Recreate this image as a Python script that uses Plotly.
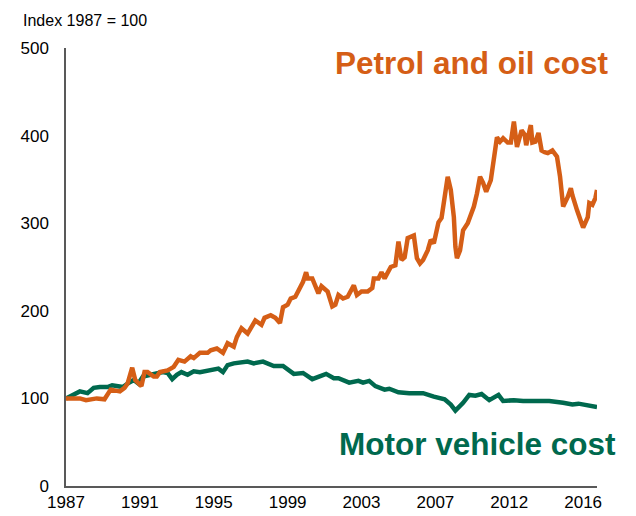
import plotly.graph_objects as go

# months since Jan 1987
petrol_month = [0, 9, 13, 20, 25, 29, 35, 38, 40, 43, 45, 47, 49, 51, 53, 57, 59, 61, 66, 70, 73, 77,
                81, 83, 87, 92, 94, 98, 102, 105, 109, 111, 114, 118, 123, 127, 129, 133, 136, 139,
                141, 144, 146, 149, 151, 154, 156, 157, 160, 162, 164, 166, 170, 173, 175, 177, 180,
                183, 187, 189, 192, 196, 199, 200, 203, 205, 207, 211, 214, 216, 218, 220, 222, 226,
                228, 230, 232, 235, 237, 239, 242, 244, 245, 248, 250, 252, 253, 254, 256, 258, 261,
                263, 265, 267, 269, 271, 273, 276, 278, 279, 280, 282, 284, 287, 289, 291, 292, 293,
                296, 298, 299, 302, 303, 305, 307, 309, 311, 313, 316, 319, 321, 323, 326, 328, 329,
                331, 332, 335, 336, 339, 340, 342, 344, 345]
petrol_cost = [100, 100, 98, 100, 99, 110, 108, 112, 117, 135, 121, 117, 114, 130, 130, 125, 125, 130,
               132, 136, 144, 142, 148, 146, 152, 152, 155, 157, 152, 163, 159, 170, 180, 174, 189,
               184, 192, 195, 192, 186, 204, 207, 214, 216, 222, 233, 244, 237, 237, 229, 220, 228,
               222, 205, 207, 218, 214, 216, 229, 218, 222, 222, 226, 237, 237, 244, 237, 250, 252,
               279, 258, 261, 283, 286, 260, 254, 258, 269, 281, 277, 301, 306, 319, 353, 338, 307,
               273, 260, 269, 292, 300, 309, 319, 334, 353, 346, 336, 349, 374, 387, 398, 393, 397,
               392, 392, 416, 398, 387, 406, 401, 389, 412, 392, 393, 403, 383, 381, 380, 383, 376,
               353, 319, 330, 340, 332, 319, 315, 300, 295, 307, 323, 321, 329, 338]

motor_month = [0, 5, 9, 14, 18, 22, 27, 30, 34, 37, 40, 44, 47, 50, 55, 59, 63, 66, 69, 72, 75, 79,
               83, 87, 92, 96, 99, 102, 105, 109, 112, 118, 122, 128, 135, 141, 148, 154, 160, 165,
               169, 174, 177, 184, 190, 193, 197, 201, 207, 210, 216, 223, 232, 239, 246, 250, 253,
               258, 262, 266, 270, 275, 281, 284, 291, 297, 305, 314, 323, 329, 333, 338, 345]
motor_cost = [100, 104, 108, 106, 112, 113, 113, 115, 114, 113, 117, 121, 117, 125, 127, 129, 130,
              129, 122, 127, 130, 127, 131, 130, 132, 134, 134, 130, 138, 140, 141, 142, 140, 142,
              137, 137, 128, 129, 122, 126, 128, 123, 123, 118, 120, 118, 120, 114, 110, 111, 107,
              106, 106, 102, 99, 93, 86, 95, 104, 103, 105, 98, 104, 97, 98, 97, 97, 97, 95, 93,
              94, 92, 90]

tick_months = [0, 48, 96, 144, 192, 240, 288, 336]
tick_labels = ["1987", "1991", "1995", "1999", "2003", "2007", "2012", "2016"]

orange = "#D55E16"
green = "#00694E"

fig = go.Figure()
fig.add_trace(go.Scatter(x=motor_month, y=motor_cost, mode="lines",
                         line=dict(color=green, width=4.5), name="Motor vehicle cost"))
fig.add_trace(go.Scatter(x=petrol_month, y=petrol_cost, mode="lines",
                         line=dict(color=orange, width=4.5), name="Petrol and oil cost"))

fig.update_layout(
    width=636, height=516,
    margin=dict(l=66, r=39, t=48, b=30),
    paper_bgcolor="white", plot_bgcolor="white",
    showlegend=False,
    font=dict(family="Liberation Sans, Arial, sans-serif", color="#000000"),
    xaxis=dict(range=[0, 345], tickvals=tick_months, ticktext=tick_labels,
               showgrid=False, zeroline=False, showline=True, linecolor="#595959",
               linewidth=1.5, ticks="", tickfont=dict(size=17), automargin=False),
    yaxis=dict(range=[0, 500], tickvals=[0, 100, 200, 300, 400, 500],
               showgrid=False, zeroline=False, showline=True, linecolor="#595959",
               linewidth=1.5, ticks="", tickfont=dict(size=17), ticklabelstandoff=12,
               automargin=False),
    annotations=[
        dict(text="Index 1987 = 100", xref="paper", yref="paper", x=-0.085, y=1.062,
             xanchor="left", yanchor="middle", showarrow=False, font=dict(size=16)),
        dict(text="<b>Petrol and oil cost</b>", xref="paper", yref="paper", x=0.503, y=0.966,
             xanchor="left", yanchor="middle", showarrow=False,
             font=dict(size=31.5, color=orange)),
        dict(text="<b>Motor vehicle cost</b>", xref="paper", yref="paper", x=0.51, y=0.096,
             xanchor="left", yanchor="middle", showarrow=False,
             font=dict(size=31.5, color=green)),
    ],
)

# drop the browser's default body margin so the figure sits at the page origin
fig.write_html("out.html", config={"displayModeBar": False},
               post_script="document.body.style.margin='0';")
